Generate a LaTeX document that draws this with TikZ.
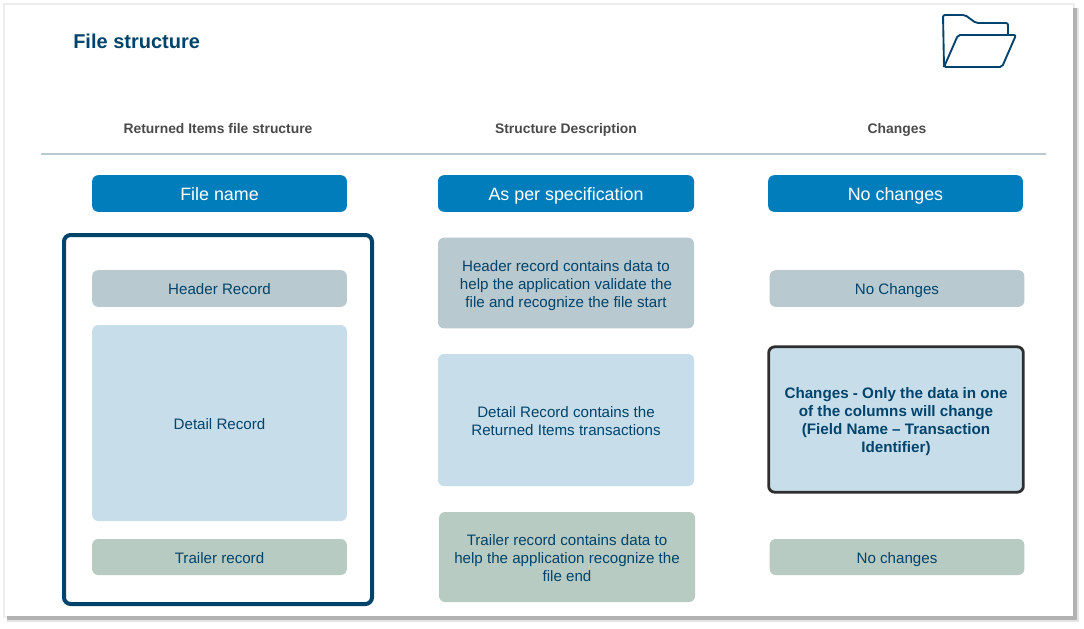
\documentclass[tikz,border=0pt]{standalone}
\usepackage{fontspec}
\setmainfont{Liberation Sans}
\usetikzlibrary{positioning}

\definecolor{navy}{HTML}{00436B}
\definecolor{bluehead}{HTML}{007DBA}
\definecolor{greybox}{HTML}{B8C9D0}
\definecolor{bluebox}{HTML}{C7DEEA}
\definecolor{greenbox}{HTML}{B8CBC3}
\definecolor{headtext}{HTML}{4A4A4A}
\newcommand{\firstline}[1]{\rule{0pt}{#1}}

\begin{document}
\begin{tikzpicture}[x=0.75pt,y=-0.75pt,
	box/.style={rectangle,rounded corners=4.5pt,align=center,text=navy,inner sep=0pt,
		minimum width=191pt,font=\fontsize{11.35}{13.5}\selectfont},
	one line/.style={text depth=0pt,text height=9.6pt},
	file head/.style={box,fill=bluehead,text=white,minimum height=27.5pt,text depth=0pt,text height=10pt,
		font=\fontsize{13.4}{16}\selectfont},
	col head/.style={text=headtext,text depth=0pt,font=\fontsize{10.4}{12}\selectfont\bfseries},
	grey box/.style={box,fill=greybox},
	blue box/.style={box,fill=bluebox},
	green box/.style={box,fill=greenbox}]
	
	\useasboundingbox (0,0) rectangle (1084,628);
	\fill[white] (0,0) rectangle (1084,628);
	\fill[black!7] (3,3) rectangle (1075,618);
	\fill[black!10] (7,8) rectangle (1079,622);
	\fill[black!30] (7,8) rectangle (1077,620);
	\fill[white] (5,5) rectangle (1073,616);
	
	\node[text=navy,inner sep=0pt,font=\fontsize{15}{18}\selectfont\bfseries,anchor=west] (title) at (73,41) {File structure};
	
	% folder icon
	\draw[navy,line width=1.4pt,line join=round,rounded corners=1.5pt]
	(944,67) -- (943,15) -- (965,15) -- (976,23) -- (1008,23) -- (1008,35);
	\draw[navy,line width=1.4pt,line join=round,rounded corners=1.5pt]
	(944,67) -- (958,35) -- (1016,35) -- (1002,67) -- cycle;
	
	\node[col head] (head a) at (218,128.5) {Returned Items file structure};
	\node[col head] (head b) at (566,128.5) {Structure Description};
	\node[col head] (head c) at (897,128.5) {Changes};
	\coordinate (rule a) at (41,154);
	\coordinate (rule b) at (1046,154);
	\draw[greybox,line width=1.1pt] (rule a) -- (rule b);
	
	\node[file head] (name a) at (219.5,193.5) {File name};
	\node[file head,minimum width=192pt] (name b) at (566,193.5) {As per specification};
	\node[file head] (name c) at (895.5,193.5) {No changes};
	
	\draw[navy,line width=3pt,rounded corners=5pt] (64,235) rectangle (372,604);
	
	\node[grey box,one line,minimum height=27.5pt] (header) at (219.5,288.5) {Header Record};
	\node[blue box,one line,minimum height=147pt] (detail) at (219.5,423) {Detail Record};
	\node[green box,one line,minimum height=27pt] (trailer) at (219.5,557) {Trailer record};
	
	\node[grey box,minimum width=192pt,minimum height=68pt] (header text) at (566,283)
	{\firstline{12.7pt}Header record contains data to\\help the application validate the\\file and recognize the file start};
	\node[blue box,minimum width=192pt,minimum height=99pt] (detail text) at (566,420)
	{\firstline{9.7pt}Detail Record contains the\\Returned Items transactions};
	\node[green box,minimum width=192pt,minimum height=67.5pt] (trailer text) at (567,557)
	{\firstline{9.7pt}Trailer record contains data to\\help the application recognize the\\file end};
	
	\node[grey box,one line,minimum height=27.5pt] (header change) at (897,288.5) {No Changes};
	\node[blue box,draw=black!82,line width=2.1pt,minimum height=109pt,
	font=\fontsize{11.4}{13.5}\selectfont\bfseries] (detail change) at (896,419.5)
	{\firstline{11.2pt}Changes - Only the data in one\\of the columns will change\\(Field Name -- Transaction\\Identifier)};
	\node[green box,one line,minimum height=27pt] (trailer change) at (897,557) {No changes};
\end{tikzpicture}
\end{document}
